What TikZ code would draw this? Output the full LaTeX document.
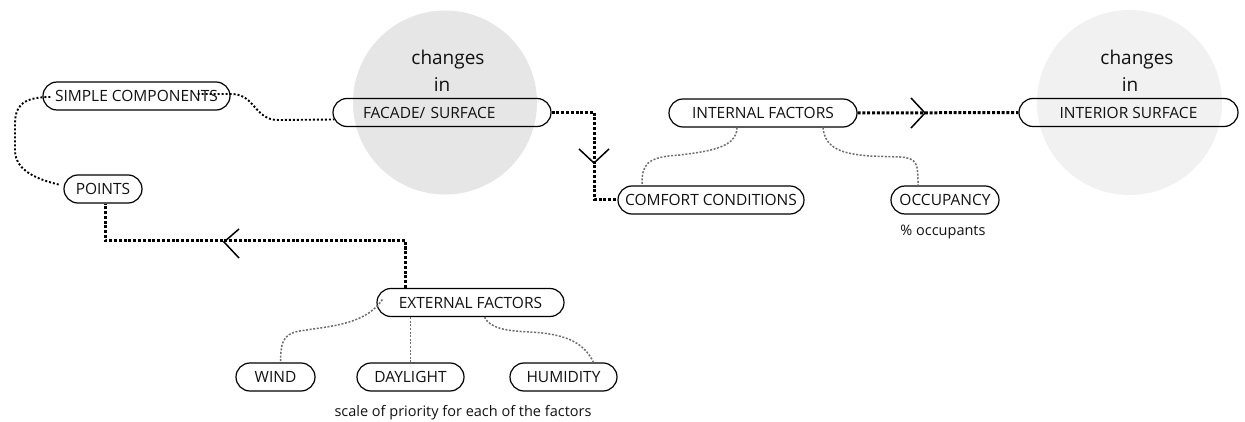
\documentclass[tikz,border=0pt]{standalone}
\usepackage{fontspec}
\setmainfont{Open Sans}
\usetikzlibrary{calc}
\definecolor{discA}{HTML}{E6E6E6}
\definecolor{discB}{HTML}{F1F1F1}
\definecolor{linkgray}{HTML}{6E6E6E}
\definecolor{ink}{HTML}{111111}
\tikzset{
  pill/.style={draw=black, line width=1.2pt, rounded corners=14pt, minimum height=28pt,
    inner sep=0pt, text=ink, font=\fontsize{15.5}{17}\selectfont},
  flow/.style={draw=black, line width=3pt, dash pattern=on 3pt off 1.8pt},
  link/.style={draw=black, line width=1.9pt, dash pattern=on 2pt off 2pt},
  sublink/.style={draw=linkgray, line width=1.5pt, dash pattern=on 2pt off 1.6pt},
  chevron/.style={draw=black, line width=1.5pt},
  caption/.style={font=\fontsize{19}{21}\selectfont, inner sep=0pt, text=ink},
  note/.style={font=\fontsize{14.5}{16}\selectfont, inner sep=0pt, text=ink}
}
\begin{document}
\begin{tikzpicture}[x=1pt, y=-1pt]
\useasboundingbox (0,0) rectangle (1245,422);

% background discs
\fill[discA] (445,102.5) circle (92);
\fill[discB] (1129.5,102.5) circle (92.5);
\node[caption] (chg1) at (448,60) {changes};
\node[caption] (in1) at (442,85) {in};
\node[caption] (chg2) at (1137,60) {changes};
\node[caption] (in2) at (1130,85) {in};

% boxes
\node[pill, minimum width=187pt] (simple) at (136.5,96) {SIMPLE COMPONENTS};
\node[pill, minimum width=78pt] (points) at (103,189) {POINTS};
\node[pill, minimum width=218pt, text width=158pt, align=left] (facade) at (442,112.5) {FACADE/ SURFACE};
\node[pill, minimum width=186pt] (comfort) at (711,200) {COMFORT CONDITIONS};
\node[pill, minimum width=188pt] (internal) at (763,113) {INTERNAL FACTORS};
\node[pill, minimum width=108pt] (occupancy) at (945,200) {OCCUPANCY};
\node[pill, minimum width=219pt] (interior) at (1128.5,112.5) {INTERIOR SURFACE};
\node[pill, minimum width=187pt] (external) at (470.5,302.5) {EXTERNAL FACTORS};
\node[pill, minimum width=79pt] (wind) at (275.5,377) {WIND};
\node[pill, minimum width=107pt] (daylight) at (410.5,377) {DAYLIGHT};
\node[pill, minimum width=107pt] (humidity) at (563.5,377) {HUMIDITY};

\node[note] (occnote) at (943,232) {\% occupants};
\node[note] (scalenote) at (463,413) {scale of priority for each of the factors};

% main flow
\draw[flow] (facade.east) -- ++(43,0) |- (comfort.west);
\draw[flow] (internal.east) -- (interior.west);
\draw[flow] ($(external.north)+(-65,0)$) -- ++(0,-47.5) -| ($(points.south)+(2,0)$);

\coordinate (tipA) at (594,163);
\coordinate (tipB) at (925,113);
\coordinate (tipC) at (224,242);
\draw[chevron] (tipA) ++(-15,-14) -- (tipA) -- ++(15,-14);
\draw[chevron] (tipB) ++(-14,-15) -- (tipB) -- ++(-14,15);
\draw[chevron] (tipC) ++(15,-13) -- (tipC) -- ++(15,16);

% loose links
\draw[link] ($(simple.east)+(-33,-2)$) -- ++(35,0)
  .. controls (255,95) and (255,120) .. (278,120) -- ($(facade.west)+(2,7)$);
\draw[link] ($(simple.west)+(8,1)$) .. controls (20,97) and (15,108) .. (15,125)
  -- (15,150) .. controls (15,172) and (40,180) .. ($(points.west)+(-3,-4)$);

% factor links
\draw[sublink] ($(internal.south)+(-26,0)$) .. controls (737,150) and (700,152) .. (680,155)
  .. controls (645,157) and (642,165) .. ($(comfort.north)+(-69,0)$);
\draw[sublink] ($(internal.south)+(60,0)$) .. controls (825,150) and (845,154) .. (870,156)
  -- (900,157) .. controls (918,158) and (918,165) .. ($(occupancy.north)+(-27,0)$);
\draw[sublink] ($(external.west)+(6,-3)$) .. controls (365,325) and (330,326) .. (300,331)
  .. controls (281,334) and (281,345) .. ($(wind.north)+(5,0)$);
\draw[sublink] (external.south -| daylight.north) -- (daylight.north);
\draw[sublink] ($(external.south)+(14,0)$) .. controls (490,328) and (505,331) .. (530,332)
  .. controls (570,334) and (585,345) .. ($(humidity.north)+(30,0)$);
\end{tikzpicture}
\end{document}
